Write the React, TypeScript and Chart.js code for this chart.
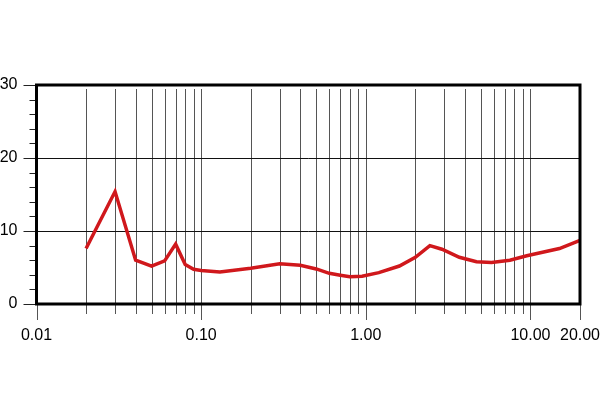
import React, { useEffect, useRef } from "react";
import { Chart, registerables } from "chart.js";

Chart.register(...registerables);

const xValues = [0.02, 0.03, 0.04, 0.05, 0.06, 0.07, 0.08, 0.09, 0.1, 0.13, 0.2, 0.3, 0.4, 0.5, 0.6, 0.7, 0.8, 0.95, 1.2, 1.6, 2.0, 2.45, 2.9, 3.7, 4.7, 5.8, 7.5, 9.5, 15, 20];
const yValues = [7.6, 15.4, 6.0, 5.2, 5.9, 8.2, 5.4, 4.75, 4.6, 4.4, 4.9, 5.5, 5.3, 4.8, 4.2, 3.95, 3.75, 3.8, 4.3, 5.2, 6.4, 8.0, 7.5, 6.4, 5.8, 5.7, 6.0, 6.6, 7.6, 8.7];

const xTickValues = [
  0.01, 0.02, 0.03, 0.04, 0.05, 0.06, 0.07, 0.08, 0.09,
  0.1, 0.2, 0.3, 0.4, 0.5, 0.6, 0.7, 0.8, 0.9,
  1, 2, 3, 4, 5, 6, 7, 8, 9,
  10, 20,
];
const xLabelValues = [0.01, 0.1, 1, 10, 20];
const xLabelTexts = ["0.01", "0.10", "1.00", "10.00", "20.00"];
const yMin = 0;
const yMax = 30;
const yMinorStep = 2;
const yMajorStep = 10;

const FONT = "'Liberation Sans', Arial, sans-serif";

const gridPlugin = {
  id: "customGrid",
  beforeDatasetsDraw(chart: any) {
    const { ctx, chartArea: a, scales } = chart;
    const x = scales.x;
    const y = scales.y;
    ctx.save();
    ctx.lineWidth = 1;
    for (const t of x.ticks) {
      const v = t.value;
      const px = Math.round(x.getPixelForValue(v)) + 0.5;
      const major = xLabelValues.some((m) => Math.abs(m - v) < 1e-9);
      const isEdge = Math.abs(v - xTickValues[0]) < 1e-9 || Math.abs(v - xTickValues[xTickValues.length - 1]) < 1e-9;
      ctx.strokeStyle = "#555";
      ctx.beginPath();
      ctx.moveTo(px, isEdge ? a.bottom : a.top + 4);
      ctx.lineTo(px, a.bottom + (major ? 16 : 10));
      ctx.stroke();
    }
    for (const t of y.ticks) {
      const v = t.value;
      const py = Math.round(y.getPixelForValue(v)) + 0.5;
      const major = Math.abs(v % yMajorStep) < 1e-9;
      ctx.strokeStyle = "#222";
      ctx.beginPath();
      ctx.moveTo(a.left - (major ? 13 : 7), py);
      ctx.lineTo(a.left, py);
      ctx.stroke();
      if (major && v > yMin && v < yMax) {
        ctx.strokeStyle = "#111";
        ctx.beginPath();
        ctx.moveTo(a.left, py);
        ctx.lineTo(a.right, py);
        ctx.stroke();
      }
    }
    ctx.restore();
  },
  afterDatasetsDraw(chart: any) {
    const { ctx, chartArea: a } = chart;
    ctx.save();
    ctx.strokeStyle = "#000";
    ctx.lineWidth = 3;
    ctx.strokeRect(a.left, a.top, a.right - a.left, a.bottom - a.top);
    ctx.restore();
  },
};

export default function App() {
  const ref = useRef<HTMLCanvasElement | null>(null);

  useEffect(() => {
    document.body.style.margin = "0";
    if (!ref.current) return;
    const chart = new Chart(ref.current, {
      type: "line",
      data: {
        datasets: [
          {
            data: xValues.map((v, i) => ({ x: v, y: yValues[i] })),
            borderColor: "#d0181c",
            borderWidth: 3.5,
            pointRadius: 0,
            tension: 0,
            fill: false,
          },
        ],
      },
      options: {
        responsive: false,
        animation: false,
        events: [],
        layout: { padding: { top: 85, right: 20, left: 0, bottom: 0 } },
        plugins: {
          legend: { display: false },
          tooltip: { enabled: false },
        },
        scales: {
          x: {
            type: "logarithmic",
            min: xTickValues[0],
            max: xTickValues[xTickValues.length - 1],
            afterBuildTicks: (scale: any) => {
              scale.ticks = xTickValues.map((v) => ({ value: v }));
            },
            afterFit: (scale: any) => {
              scale.height = 116;
              scale.paddingLeft = 0;
              scale.paddingRight = 0;
            },
            grid: { display: false, drawTicks: false },
            border: { display: false },
            ticks: {
              autoSkip: false,
              maxRotation: 0,
              minRotation: 0,
              padding: 22,
              color: "#000",
              font: { family: FONT, size: 16 },
              callback: (value: any) => {
                const i = xLabelValues.findIndex((m) => Math.abs(m - Number(value)) < 1e-9);
                return i >= 0 ? xLabelTexts[i] : "";
              },
            },
          },
          y: {
            type: "linear",
            min: yMin,
            max: yMax,
            afterFit: (scale: any) => {
              scale.width = 36.5;
            },
            grid: { display: false, drawTicks: false },
            border: { display: false },
            ticks: {
              stepSize: yMinorStep,
              autoSkip: false,
              padding: 19,
              color: "#000",
              font: { family: FONT, size: 16 },
              callback: (value: any) => (Number(value) % yMajorStep === 0 ? String(value) : ""),
            },
          },
        },
      },
      plugins: [gridPlugin],
    });
    return () => chart.destroy();
  }, []);

  return <canvas ref={ref} width={600} height={420} style={{ display: "block", width: 600, height: 420 }} />;
}
